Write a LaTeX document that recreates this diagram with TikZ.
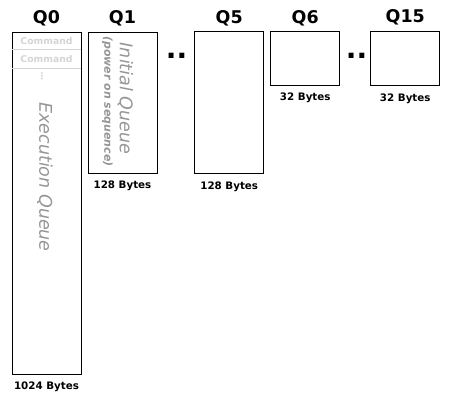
\documentclass[tikz,border=0pt]{standalone}
\usepackage{fontspec}
\setmainfont{DejaVu Sans}
\usetikzlibrary{positioning}
\definecolor{faint}{RGB}{212, 212, 212}
\definecolor{shade}{RGB}{150, 150, 150}

\tikzset{
  queue/.style={draw=black, line width=0.9pt, inner sep=0pt, minimum width=69pt, anchor=north west},
  qname/.style={inner sep=0pt, font=\fontsize{17.5}{17.5}\selectfont\bfseries},
  qsize/.style={inner sep=0pt, font=\fontsize{10.3}{11}\selectfont\bfseries},
  skip/.style={inner sep=0pt, font=\fontsize{28}{28}\selectfont\bfseries},
  cmd/.style={inner sep=0pt, text=faint, font=\fontsize{9.3}{10}\selectfont\bfseries},
  tag/.style={inner sep=0pt, text=shade, rotate=-90, font=\fontsize{17.5}{18}\selectfont\itshape}
}

\begin{document}
\begin{tikzpicture}[x=1pt, y=-1pt]
  \useasboundingbox (0, 0) rectangle (452, 402);

  % queues
  \node[queue, minimum height=342.5pt] (q0) at (11.5, 31.5) {};
  \node[queue, minimum height=141.5pt] (q1) at (87.5, 31.5) {};
  \node[queue, minimum height=142pt] (q5) at (194.3, 31.3) {};
  \node[queue, minimum height=54pt] (q6) at (270.3, 31.3) {};
  \node[queue, minimum height=54pt] (q15) at (370.3, 30.5) {};

  % names
  \node[qname, above=5pt of q0] (n0) {Q0};
  \node[qname, above=5pt of q1] (n1) {Q1};
  \node[qname, above=5pt of q5] (n5) {Q5};
  \node[qname, above=5pt of q6] (n6) {Q6};
  \node[qname, above=5pt of q15] (n15) {Q15};

  % sizes
  \node[qsize, below=7pt of q0] (s0) {1024 Bytes};
  \node[qsize, below=7pt of q1] (s1) {128 Bytes};
  \node[qsize, below=7pt of q5] (s5) {128 Bytes};
  \node[qsize, below=6pt of q6] (s6) {32 Bytes};
  \node[qsize, below=8pt of q15] (s15) {32 Bytes};

  % skipped queues
  \node[skip] (gapA) at (176.5, 55.5) {..};
  \node[skip] (gapB) at (356.5, 55.5) {..};

  % execution queue content
  \foreach \y in {49.5, 68.5} {
    \draw[faint, line width=0.6pt] (11.5, \y) -- (80.5, \y);
  }
  \node[cmd] (c1) at (46.5, 41) {Command};
  \node[cmd] (c2) at (46.5, 59) {Command};
  \node[cmd] (c3) at (42, 76.5) {⋮};
  \node[tag] (exec) at (45, 177) {Execution Queue};

  % initial queue content
  \node[tag] (init) at (125.5, 98.5) {Initial Queue};
  \node[tag, font=\fontsize{11}{11}\selectfont\bfseries\itshape] (boot) at (107.5, 101.5) {(power on sequence)};
\end{tikzpicture}
\end{document}
